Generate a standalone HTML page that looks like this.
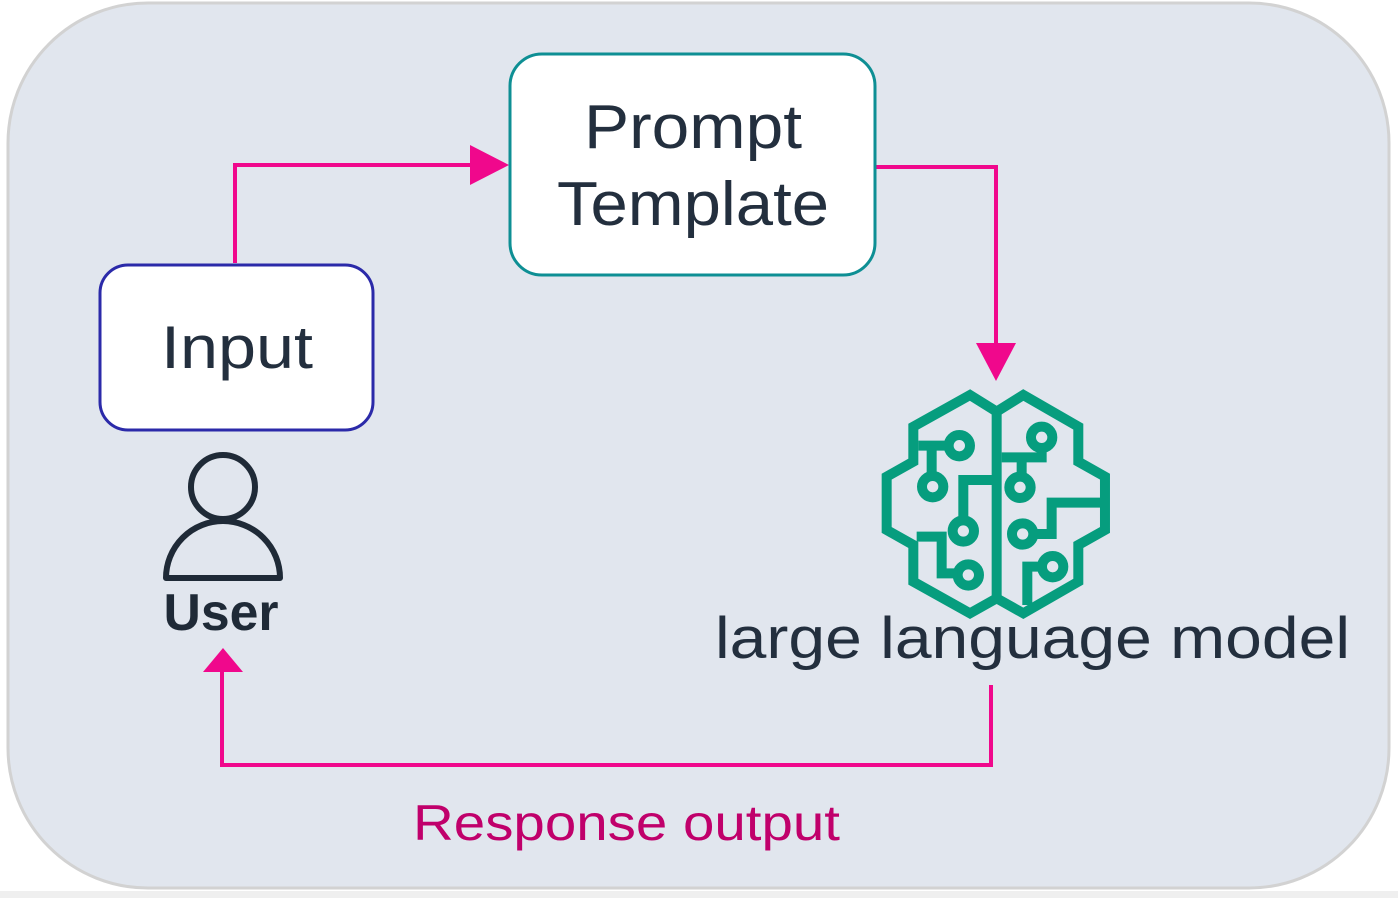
<!DOCTYPE html>
<html><head><meta charset="utf-8"><style>
html,body{margin:0;padding:0;background:#fff;}
svg{display:block;}
text{font-family:"Liberation Sans",sans-serif;}
</style></head><body>
<svg width="1398" height="898" viewBox="0 0 1398 898" xmlns="http://www.w3.org/2000/svg">
<rect x="0" y="891" width="1398" height="7" fill="#efefef"/>
<rect x="8" y="3" width="1381" height="885" rx="140" ry="140" fill="#e1e6ee" stroke="#d2d2d2" stroke-width="3"/>
<!-- connectors -->
<g fill="none" stroke="#f0088c" stroke-width="4">
<polyline points="235,263 235,165 472,165"/>
<polyline points="876,167 996,167 996,345"/>
<polyline points="991,685 991,765 222,765 222,670"/>
</g>
<g fill="#f0088c">
<polygon points="470,145 509,165 470,185"/>
<polygon points="976,343 1016,343 996,381"/>
<polygon points="203,672 243,672 223,648"/>
</g>
<!-- boxes -->
<rect x="100" y="265" width="273" height="165" rx="28" fill="#fff" stroke="#2b2aa9" stroke-width="3"/>
<rect x="510" y="54" width="365" height="221" rx="32" fill="#fff" stroke="#0e8f94" stroke-width="3"/>
<text x="693" y="148" font-size="62" fill="#232f3e" text-anchor="middle" textLength="218" lengthAdjust="spacingAndGlyphs">Prompt</text>
<text x="693" y="225" font-size="62" fill="#232f3e" text-anchor="middle" textLength="272" lengthAdjust="spacingAndGlyphs">Template</text>
<text x="237" y="368" font-size="60" fill="#232f3e" text-anchor="middle" textLength="152" lengthAdjust="spacingAndGlyphs">Input</text>
<!-- user icon -->
<g fill="none" stroke="#1f2a37" stroke-width="6">
<circle cx="223" cy="487" r="32"/>
<path d="M166,578 A57,57 0 0 1 280,578 Z" stroke-linejoin="round"/>
</g>
<text x="221" y="630" font-size="52" font-weight="bold" fill="#1f2a37" text-anchor="middle" textLength="115" lengthAdjust="spacingAndGlyphs">User</text>
<!-- brain -->
<g transform="translate(870,380) scale(0.3333)" fill="none" stroke="#069d7e" stroke-width="30" stroke-linejoin="miter">
<path d="M380,95 L300,45 L130,140 L130,245 L50,290 L50,450 L130,495 L130,605 L300,700 L380,655 L460,700 L625,605 L625,495 L705,450 L705,290 L625,245 L625,140 L460,45 Z"/>
<line x1="380" y1="95" x2="380" y2="660"/>
<circle cx="268" cy="197" r="32"/>
<polyline points="145,197 236,197"/>
<polyline points="185,197 185,288"/>
<circle cx="188" cy="320" r="32"/>
<circle cx="280" cy="453" r="32"/>
<polyline points="280,421 280,300 368,300"/>
<circle cx="295" cy="585" r="32"/>
<polyline points="140,470 215,470 215,580 263,580"/>
<circle cx="515" cy="172" r="32"/>
<polyline points="515,204 515,232 395,232"/>
<polyline points="455,232 455,290"/>
<circle cx="450" cy="322" r="32"/>
<circle cx="458" cy="462" r="32"/>
<polyline points="490,462 545,462 545,368 692,368"/>
<circle cx="548" cy="560" r="32"/>
<polyline points="516,560 472,560 472,675"/>
</g>
<text x="715" y="658" font-size="58" fill="#232f3e" textLength="635" lengthAdjust="spacingAndGlyphs">large language model</text>
<text x="413" y="840" font-size="50" fill="#c0006b" textLength="427" lengthAdjust="spacingAndGlyphs">Response output</text>
</svg>
</body></html>
